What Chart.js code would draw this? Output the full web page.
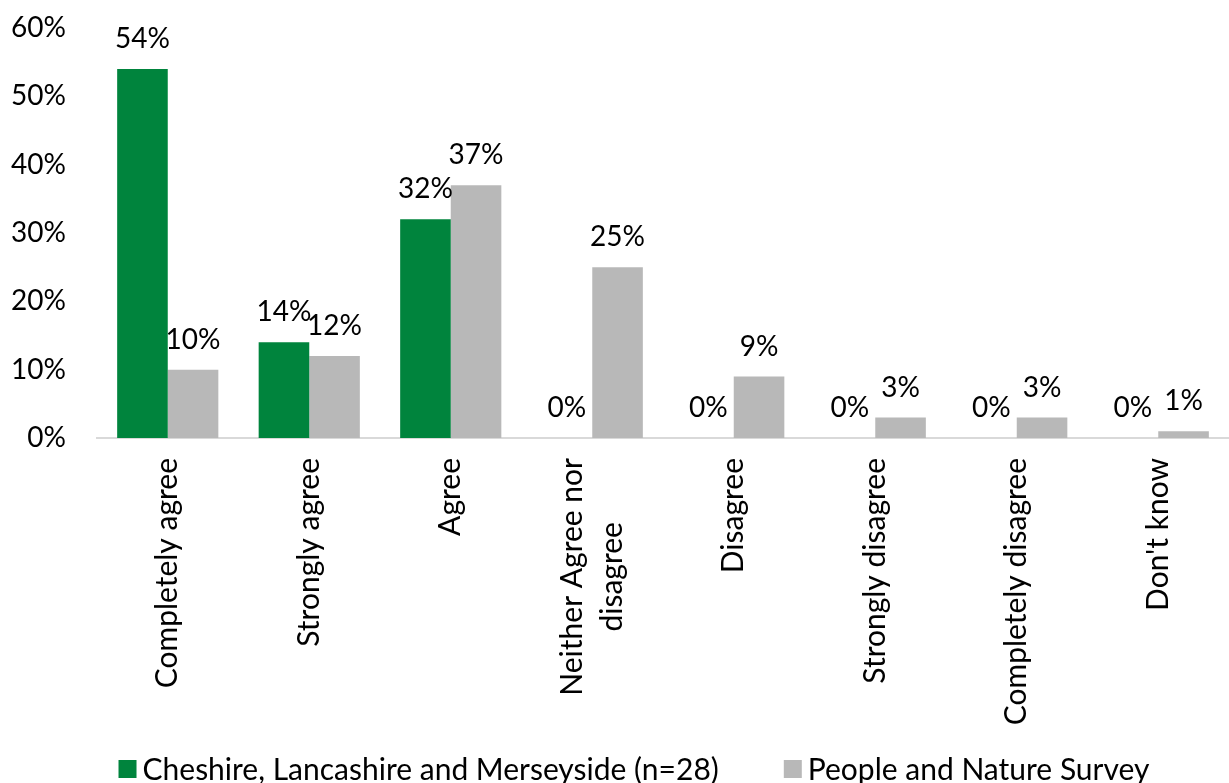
<!DOCTYPE html>
<html>
<head>
<meta charset="utf-8">
<script src="https://cdn.jsdelivr.net/npm/chart.js@4.4.1/dist/chart.umd.min.js"></script>
<style>
  html, body { margin: 0; padding: 0; background: #ffffff; }
  #wrap { width: 1229px; height: 783px; position: relative; }
</style>
</head>
<body>
<div id="wrap"><canvas id="chart" width="1229" height="783"></canvas></div>
<script>
// Response categories (multi-line entries are arrays)
const categories = [
  'Completely agree',
  'Strongly agree',
  'Agree',
  ['Neither Agree nor', 'disagree'],
  'Disagree',
  'Strongly disagree',
  'Completely disagree',
  "Don't know"
];

// Share of respondents (%)
const regionalValues = [54, 14, 32, 0, 0, 0, 0, 0];
const nationalValues = [10, 12, 37, 25, 9, 3, 3, 1];

const seriesNames = ['Cheshire, Lancashire and Merseyside (n=28)', 'People and Nature Survey'];
const seriesColors = ['#00843D', '#B8B8B8'];

const yTicks = [0, 10, 20, 30, 40, 50, 60];

const FONT = 'Lato, "Open Sans", "Noto Sans", sans-serif';
const NUM_SIZE = 28;   // tick and value labels
const TEXT_SIZE = 30;  // category and legend text

// Value labels above each bar
const valueLabels = {
  id: 'valueLabels',
  afterDatasetsDraw(chart) {
    const ctx = chart.ctx;
    ctx.save();
    ctx.font = `${NUM_SIZE}px ${FONT}`;
    ctx.fillStyle = '#000';
    ctx.textAlign = 'center';
    ctx.textBaseline = 'alphabetic';
    chart.data.datasets.forEach((ds, di) => {
      const meta = chart.getDatasetMeta(di);
      meta.data.forEach((bar, i) => {
        ctx.fillText(ds.data[i] + '%', bar.x, bar.y - 21);
      });
    });
    ctx.restore();
  }
};

// Rotated category labels, centred per label block, anchored below the axis
const categoryLabels = {
  id: 'categoryLabels',
  afterDraw(chart) {
    const ctx = chart.ctx;
    const xs = chart.scales.x;
    const top = chart.chartArea.bottom + 20;
    const lineH = 40;
    ctx.save();
    ctx.font = `${TEXT_SIZE}px ${FONT}`;
    ctx.fillStyle = '#000';
    ctx.textAlign = 'center';
    ctx.textBaseline = 'middle';
    categories.forEach((lab, i) => {
      const lines = Array.isArray(lab) ? lab : [lab];
      const maxW = Math.max(...lines.map(l => ctx.measureText(l).width));
      const x = xs.getPixelForTick(i);
      ctx.save();
      ctx.translate(x, top + maxW / 2);
      ctx.rotate(-Math.PI / 2);
      lines.forEach((l, k) => {
        ctx.fillText(l, 0, (k - (lines.length - 1) / 2) * lineH);
      });
      ctx.restore();
    });
    ctx.restore();
  }
};

// Legend along the bottom edge
const bottomLegend = {
  id: 'bottomLegend',
  afterDraw(chart) {
    const ctx = chart.ctx;
    ctx.save();
    ctx.font = `${TEXT_SIZE}px ${FONT}`;
    ctx.textBaseline = 'middle';
    ctx.textAlign = 'left';
    const box = 18, gapText = 6, gapItem = 65, cy = 769;
    const widths = seriesNames.map(n => box + gapText + ctx.measureText(n).width);
    const total = widths.reduce((a, b) => a + b, 0) + gapItem * (seriesNames.length - 1);
    let x = 634 - total / 2;
    seriesNames.forEach((n, i) => {
      ctx.fillStyle = seriesColors[i];
      ctx.fillRect(x, cy - box / 2, box, box);
      ctx.fillStyle = '#000';
      ctx.fillText(n, x + box + gapText, cy + 1);
      x += widths[i] + gapItem;
    });
    ctx.restore();
  }
};

new Chart(document.getElementById('chart'), {
  type: 'bar',
  data: {
    labels: categories,
    datasets: [
      { label: seriesNames[0], data: regionalValues, backgroundColor: seriesColors[0] },
      { label: seriesNames[1], data: nationalValues, backgroundColor: seriesColors[1] }
    ]
  },
  options: {
    responsive: false,
    animation: false,
    devicePixelRatio: 1,
    layout: { padding: { top: 28, right: 0, bottom: 0, left: 0 } },
    datasets: { bar: { categoryPercentage: 0.715, barPercentage: 1.0, borderWidth: 0 } },
    plugins: {
      legend: { display: false },
      tooltip: { enabled: false }
    },
    scales: {
      x: {
        grid: { display: false },
        border: { display: true, color: '#D9D9D9', width: 2 },
        ticks: { display: false },
        afterFit(scale) { scale.height = 345; }
      },
      y: {
        min: 0,
        max: 60,
        afterBuildTicks(scale) { scale.ticks = yTicks.map(v => ({ value: v })); },
        grid: { display: false, drawTicks: true, tickLength: 31 },
        border: { display: false },
        ticks: {
          padding: 0,
          color: '#000',
          font: { family: FONT, size: NUM_SIZE },
          callback: v => v + '%'
        },
        afterFit(scale) { scale.width = 97; }
      }
    }
  },
  plugins: [valueLabels, categoryLabels, bottomLegend]
});
</script>
</body>
</html>
